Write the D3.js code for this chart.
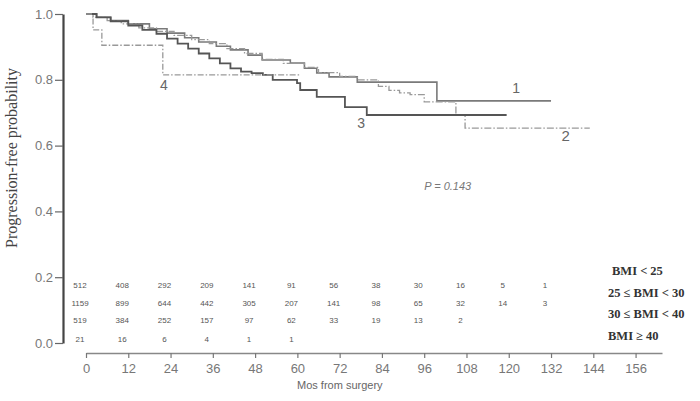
<!DOCTYPE html>
<html><head><meta charset="utf-8">
<script src="https://cdn.jsdelivr.net/npm/d3@7"></script>
<style>body{margin:0;background:#fff}svg{display:block}</style>
</head><body>
<script>
// ---- data ----
const xTicks = [0,12,24,36,48,60,72,84,96,108,120,132,144,156];
const yTicks = [0,0.2,0.4,0.6,0.8,1.0];
const groups = ["BMI < 25","25 \u2264 BMI < 30","30 \u2264 BMI < 40","BMI \u2265 40"];
const curveLabels = ["1","2","3","4"];
// step curves: [month, probability]
const curve1 = [[0,1],[3,0.99],[7,0.98],[12,0.97],[18,0.955],[23,0.942],[28,0.928],[32,0.915],[37,0.902],[41,0.891],[46,0.875],[50,0.86],[58,0.851],[62,0.835],[65.5,0.821],[69,0.809],[77,0.793],[99.6,0.736],[132,0.736]];
const curve2 = [[0,1],[2,0.99],[6,0.98],[10,0.97],[15,0.958],[20,0.947],[25,0.935],[30,0.922],[35,0.91],[40,0.895],[45,0.88],[50,0.862],[56,0.85],[62,0.838],[66,0.822],[72,0.81],[77,0.8],[83,0.78],[86,0.768],[89,0.76],[92,0.755],[96,0.733],[105,0.693],[107.6,0.653],[143,0.653]];
const curve3 = [[0,1],[3,0.99],[7,0.978],[12,0.965],[16,0.952],[20,0.94],[23,0.925],[26,0.91],[29,0.895],[32,0.88],[35,0.865],[38,0.85],[41,0.835],[44,0.825],[47,0.82],[50.2,0.815],[53,0.8],[59.9,0.79],[60.8,0.769],[65.5,0.748],[73.5,0.717],[79.7,0.693],[119.4,0.693]];
const curve4 = [[0,1],[2,0.952],[4.5,0.905],[21.8,0.815],[61,0.815]];
// numbers at risk
const risk1 = [512,408,292,209,141,91,56,38,30,16,5,1];
const risk2 = [1159,899,644,442,305,207,141,98,65,32,14,3];
const risk3 = [519,384,252,157,97,62,33,19,13,2];
const risk4 = [21,16,6,4,1,1];
const pText = "P = 0.143";

// ---- chart ----
const W=700,H=401;
const svg=d3.select("body").append("svg").attr("width",W).attr("height",H);
const x=d3.scaleLinear().domain([0,163.5]).range([86,662]);
const y=d3.scaleLinear().domain([0,1]).range([343,14]);

// y axis
const ya=svg.append("g").attr("transform","translate(63,0)")
  .call(d3.axisLeft(y).tickValues(yTicks).tickFormat(d3.format(".1f")).tickSize(8).tickSizeOuter(0));
ya.select(".domain").attr("stroke","#444").attr("stroke-width",2.2);
ya.selectAll(".tick line").attr("stroke","#666").attr("stroke-width",1.2);
ya.selectAll(".tick text").attr("fill","#777").attr("font-family","Liberation Sans Narrow, Arial Narrow, sans-serif").attr("font-size",13).attr("x",-10);

// x axis
const xa=svg.append("g").attr("transform","translate(0,353)")
  .call(d3.axisBottom(x).tickValues(xTicks).tickSize(5).tickSizeOuter(0));
xa.select(".domain").attr("stroke","#888").attr("stroke-width",1.6);
xa.selectAll(".tick line").attr("stroke","#777").attr("stroke-width",1.2);
xa.selectAll(".tick text").attr("fill","#777").attr("font-family","Liberation Sans, Arial, sans-serif").attr("font-size",13).attr("dy","0.95em");

svg.append("text").attr("x",297).attr("y",389).text("Mos from surgery")
  .attr("font-family","Liberation Sans, Arial, sans-serif").attr("font-size",11).attr("fill","#666");

svg.append("text").attr("transform","translate(17,158) rotate(-90)").attr("text-anchor","middle")
  .text("Progression-free probability").attr("font-family","Liberation Serif, Times New Roman, serif")
  .attr("font-size",16).attr("fill","#444");

// curves
const line=d3.line().x(d=>x(d[0])).y(d=>y(d[1])).curve(d3.curveStepAfter);
const styles=[
  {data:curve1,stroke:"#7a7a7a",w:1.6,dash:null},
  {data:curve2,stroke:"#999",w:1.3,dash:"7,2,1.5,2"},
  {data:curve3,stroke:"#555",w:1.8,dash:null},
  {data:curve4,stroke:"#999",w:1.3,dash:"6,2,1.5,2"}
];
styles.forEach(s=>{
  svg.append("path").attr("d",line(s.data)).attr("fill","none")
    .attr("stroke",s.stroke).attr("stroke-width",s.w).attr("stroke-dasharray",s.dash);
});

// curve labels (positions in data coords)
const labelPos=[[121,0.76,14],[135,0.615,15],[77,0.655,14],[21,0.77,14]];
curveLabels.forEach((t,i)=>{
  svg.append("text").attr("x",x(labelPos[i][0])).attr("y",y(labelPos[i][1])).text(t)
    .attr("font-family","Liberation Sans, Arial, sans-serif").attr("font-size",labelPos[i][2]).attr("fill","#666");
});

svg.append("text").attr("x",x(96)).attr("y",y(0.465)).text(pText)
  .attr("font-family","Liberation Sans, Arial, sans-serif").attr("font-style","italic")
  .attr("font-size",11).attr("fill","#777");

// numbers at risk
const rows=[risk1,risk2,risk3,risk4];
const rowY=[y(0.177),y(0.122),y(0.068),y(0.013)];
rows.forEach((r,ri)=>{
  svg.append("g").selectAll("text").data(r).join("text")
    .attr("x",(d,i)=>x(xTicks[i])-6).attr("y",rowY[ri]).attr("dy","0.35em").attr("text-anchor","middle")
    .text(d=>d).attr("font-family","Liberation Sans Narrow, Arial Narrow, sans-serif").attr("font-size",8).attr("fill","#555");
});

// group legend
groups.forEach((g,i)=>{
  svg.append("text").attr("x",i===0?612:608).attr("y",rowY[0]-14+i*21.5).attr("dy","0.35em").text(g)
    .attr("font-family","Liberation Serif, Times New Roman, serif").attr("font-weight","bold")
    .attr("font-size",12.5).attr("fill","#333");
});
</script>
</body></html>
